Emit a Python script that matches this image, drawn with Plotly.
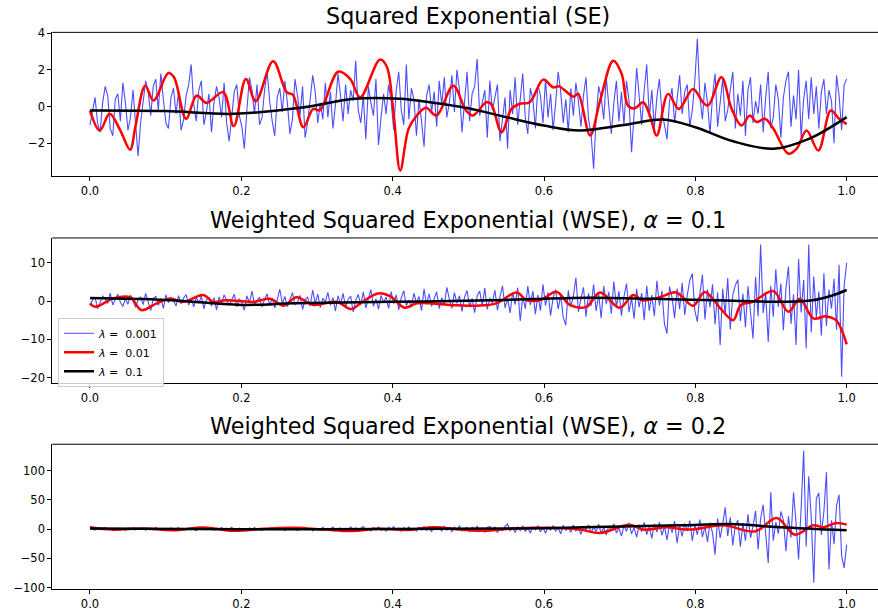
import numpy as np
import plotly.graph_objects as go

# ---------------- data ----------------
titles = ["Squared Exponential (SE)",
          "Weighted Squared Exponential (WSE), <i>α</i> = 0.1",
          "Weighted Squared Exponential (WSE), <i>α</i> = 0.2"]
legend_names = ["<i>λ</i> =  0.001", "<i>λ</i> =  0.01", "<i>λ</i> =  0.1"]
x_ticks = [0.0, 0.2, 0.4, 0.6, 0.8, 1.0]
y_ticks = [[-2, 0, 2, 4], [-20, -10, 0, 10], [-100, -50, 0, 50, 100]]

# lambda = 0.001 (noisy) samples, 300 points on [0, 1]
blue_se = [
    -1.0, -0.3, 0.5, -0.9, -1.4, 0.2, 1.1, 0.6, -1.2, -1.6,
    0.4, 0.7, -0.8, 1.3, 0.2, -1.3, -0.6, 0.9, -1.1, -2.7,
    -0.9, 0.3, 1.4, 0.8, -0.5, 1.1, 1.5, -0.2, 1.8, 0.4,
    -0.9, -1.2, 0.5, 1.0, -0.4, 0.8, -1.3, -0.7, 0.6, 1.2,
    2.3, 0.1, -0.8, 0.9, 1.4, -1.0, -0.3, 0.7, -1.4, 0.2,
    1.1, 0.5, -0.6, 1.3, -0.9, -1.9, -0.4, 0.8, 1.2, -0.5,
    -1.1, -2.3, -0.2, 1.6, 0.9, -0.4, 1.2, -1.0, -0.6, 0.9,
    1.9, 0.3, -0.8, -1.6, 0.5, 1.0, -0.3, 1.4, 0.2, -1.5,
    -0.7, 1.5, 0.6, -0.5, 1.1, -1.7, -0.9, 0.4, 1.7, 0.8,
    -0.9, 0.2, -0.7, 1.3, -0.6, 0.8, -1.2, 0.1, 1.8, 0.6,
    -0.8, 1.2, -0.4, 0.9, 0.3, 2.5, -0.2, -0.9, 0.6, -1.8,
    1.1, 0.2, -0.5, 1.5, -2.1, -0.6, 0.7, -0.4, 1.2, 0.3,
    -1.3, 0.9, 1.9, -0.2, -1.0, 2.3, -0.7, 1.0, 0.4, -1.6,
    0.4, -0.8, -2.2, 0.6, 1.2, -0.3, 0.8, -1.1, 1.4, 0.1,
    1.6, -0.6, 0.2, 1.7, -0.3, 2.0, 0.9, -1.4, 0.5, 1.9,
    -0.8, 0.7, 1.1, 2.6, -0.5, 0.3, 0.9, -1.7, 1.4, -0.2,
    0.6, 1.2, -1.9, -0.7, 0.5, -2.3, 0.9, -0.4, 1.6, -1.0,
    0.3, 1.8, -0.6, -1.5, 1.0, 0.4, -1.2, 1.2, 0.6, -0.9,
    1.5, -0.6, 0.7, -1.3, 0.2, 1.9, 0.8, -0.9, 0.4, -1.4,
    1.0, -0.5, 1.3, 0.3, -1.1, 0.6, 1.6, -0.7, -1.5, -3.4,
    -0.6, 1.1, 0.5, -0.7, 1.6, 0.2, -1.5, 0.2, 1.4, -0.8,
    0.8, -1.0, 1.4, 0.3, -2.5, -0.4, 2.1, 0.6, -1.0, 0.9,
    2.3, -0.6, 0.9, -1.2, 0.5, 1.5, -0.3, -1.0, -1.8, 0.3,
    1.0, -0.9, 0.4, 1.7, -0.4, 0.8, 1.2, -1.1, -0.2, 1.4,
    3.7, 0.5, -0.7, 1.3, 0.2, -1.5, 0.6, 1.8, -1.1, 0.4,
    1.5, -0.8, -0.2, 0.9, 1.9, -1.2, 0.7, -0.5, 1.4, -1.6,
    0.9, 1.6, -0.9, 0.3, -0.4, 1.2, -1.4, 0.5, 1.9, -1.2,
    -0.6, 1.2, 0.4, -1.7, 0.5, 1.4, 1.9, -1.1, 0.6, -0.7,
    2.0, -1.7, 0.4, 1.4, -0.7, 1.6, -0.4, 1.1, -1.2, 0.8,
    1.5, -0.4, 0.9, 0.3, -2.0, 1.7, 0.6, -1.3, 1.2, 1.5,
]
blue_wse1 = [
    -1.2, 0.3, 1.0, -2.0, -0.4, 1.3, 0.6, -0.6, 2.1, -1.0,
    0.4, 1.8, -0.3, -1.4, 0.6, -0.8, 1.5, 0.2, -1.6, 0.3,
    1.1, -0.9, 2.0, -0.5, -2.4, 0.7, 1.2, -1.1, 0.7, -1.9,
    1.6, -0.4, 0.9, 0.2, -1.3, 1.4, -0.7, 0.8, 1.7, -1.0,
    0.5, -1.5, 1.0, -0.6, 1.3, -2.0, 0.4, 0.9, -1.3, 0.9,
    -2.3, 1.1, -0.6, 1.6, 0.3, -1.1, 0.3, 1.8, -1.5, 0.6,
    -0.4, -2.4, 1.4, -0.5, 2.6, -0.9, 0.2, 1.0, -1.6, 0.5,
    1.9, -1.2, 0.8, -1.8, 0.4, 3.1, -0.7, 1.2, -1.5, 0.6,
    2.2, -1.0, -0.3, 1.5, -2.2, 0.4, 1.0, -1.3, 2.9, -0.6,
    1.8, -1.7, 0.7, -0.2, 2.3, -1.1, 0.9, -2.6, 1.4, -0.8,
    2.0, -1.5, 0.5, 1.3, -2.8, 0.2, 1.7, -0.9, 2.4, -1.8,
    0.8, 3.0, -1.4, 0.6, -2.1, 1.5, -0.4, 1.1, -1.9, 2.5,
    -0.7, 1.6, -2.3, 0.9, 2.7, -1.2, 0.3, -1.6, 2.1, -0.5,
    1.2, -2.5, 3.2, -0.8, 1.9, -1.4, 0.6, 2.4, -2.0, 0.9,
    -1.1, 3.6, 0.5, -1.9, 2.2, -0.6, 1.4, -2.7, 1.0, 2.8,
    -1.6, 0.7, -3.0, 1.4, 2.6, -1.2, 3.4, -2.2, 0.8, -0.4,
    2.9, -2.4, 1.1, 4.0, -1.8, 0.6, -3.1, 2.3, -0.9, 3.5,
    -5.2, 1.3, -2.0, 3.9, -1.0, 2.6, -3.4, 1.6, -2.5, 4.4,
    -1.2, 2.3, -3.8, 0.9, 3.0, -2.1, 1.5, -4.2, -6.3, 2.8,
    -1.5, 1.2, 6.1, -2.8, 0.7, 3.6, -4.1, 2.0, -1.3, 4.3,
    -2.6, 1.8, -4.5, 3.9, -0.8, 2.4, -3.3, 5.1, -1.5, 2.6,
    -3.8, 1.2, 4.6, -2.9, 0.8, -4.6, 3.2, -1.6, 2.1, -5.0,
    4.0, -2.5, 1.6, -3.9, 5.3, -1.2, 2.7, -6.0, -8.5, 3.8,
    1.0, -4.4, 3.3, -2.1, 4.8, -3.6, 1.5, 5.4, 7.2, -2.5,
    -5.4, 2.0, 6.9, -4.8, 3.0, -1.6, 4.4, -6.1, 2.3, -11.5,
    3.2, -3.5, 6.0, -7.4, 1.6, 4.1, 5.6, -5.2, 2.0, -6.8,
    3.9, -2.4, -9.8, 6.3, -4.0, 14.8, -3.1, 2.2, -10.7, 4.0,
    -4.1, 8.3, -1.5, 4.6, -7.6, 3.4, 9.0, -6.0, 1.8, -11.5,
    11.0, -3.0, 5.5, -12.4, 14.8, -8.2, 6.4, -4.2, 2.5, -9.0,
    7.3, -6.5, 3.0, -2.0, 5.8, -7.5, 9.5, -19.8, 4.0, 10.0,
]
blue_wse2 = [
    1.5, 0.4, -2.0, 0.8, -1.2, -0.3, 2.4, -0.6, 1.1, -2.5,
    0.4, 1.9, -1.4, 0.7, -2.2, 1.6, -0.5, 2.0, -1.7, 0.9,
    -0.3, 1.3, -2.1, 1.0, 0.2, -1.5, 2.6, -0.8, 1.2, -1.9,
    0.6, -0.9, 1.8, -1.1, 0.5, 2.2, -2.4, 0.9, -0.4, 1.5,
    -1.6, 0.3, -3.0, 1.4, -0.7, 2.1, -1.3, 0.6, 1.7, -2.2,
    0.8, -0.5, 2.5, -1.8, 1.1, -0.6, 2.9, -2.0, 0.4, 1.6,
    -1.2, 0.9, -2.3, 1.9, -0.8, 2.7, -1.5, 0.3, -2.6, 1.4,
    0.7, -1.0, 2.2, -1.6, 3.1, -0.9, 1.2, -2.8, 0.6, 2.0,
    -1.4, 0.5, -2.5, 1.7, -0.4, 2.9, -1.9, 1.0, -3.2, 1.5,
    0.2, -1.1, 2.8, -2.1, 1.3, -0.6, 3.4, -2.4, 0.9, 1.8,
    -3.0, 1.1, -2.7, 3.5, -1.2, 2.1, -3.8, 1.6, 4.2, -2.0,
    0.7, -3.1, 2.5, -1.4, 3.8, -2.6, 1.0, -3.5, 2.9, -0.8,
    4.1, -2.2, 1.5, -4.0, 2.4, -1.1, 3.6, -2.9, 0.6, -3.7,
    2.8, -1.5, 4.5, -2.4, 1.2, -4.3, 3.3, -0.9, 2.1, -3.2,
    4.8, -2.0, 1.7, -4.6, 3.0, -1.3, 5.2, -3.5, 0.8, 2.6,
    -4.4, 3.1, -1.9, 5.0, -3.6, 1.4, -5.3, 2.7, 4.6, -2.1,
    3.3, -5.8, 1.2, -2.9, 4.7, 8.5, -3.4, 2.1, -6.0, 3.8,
    -2.5, 5.5, -4.1, 1.6, -6.7, 3.9, -1.2, 6.1, -4.8, 2.4,
    -7.2, 4.3, -2.0, 5.9, -3.5, 1.8, -8.1, 6.5, -2.7, 3.6,
    -5.6, 7.0, -3.3, 2.2, -9.0, 4.8, -1.6, 6.9, -6.2, 3.1,
    -4.0, 8.2, -7.4, 2.6, -10.5, 5.3, -2.8, 9.1, -6.6, 1.7,
    -12.0, 6.0, -3.9, 10.4, -8.3, 2.5, -14.0, 7.5, -4.6, 11.2,
    -9.5, 3.8, -16.0, 8.7, -5.2, 12.0, -11.0, 4.4, -18.5, 7.9,
    -6.0, 13.5, -24.0, 5.5, -12.5, 9.6, -3.4, 14.5, -20.0, 6.8,
    -9.8, 16.0, -13.5, 4.0, -22.0, 11.0, -7.0, -43.7, 18.0, -15.0,
    8.0, 37.0, -12.0, 20.0, -28.0, 6.0, 15.0, -30.0, 10.0, -20.0,
    25.0, -15.0, 5.0, 31.0, -35.0, 18.0, 41.6, -10.0, -58.0, 63.0,
    -20.0, 12.0, -8.0, 30.0, 15.0, -38.0, 22.0, -15.0, 63.0, 10.0,
    -52.0, 35.0, 133.7, -30.0, 90.0, 20.0, -92.0, 52.0, 61.6, -10.0,
    30.0, 97.0, -69.0, 15.0, -26.0, 40.0, 58.6, -45.0, -66.5, -26.7,
]

# lambda = 0.01 (red) curves
red_se_x = [0, 0.013, 0.026, 0.04, 0.053, 0.06, 0.073, 0.084, 0.1035, 0.111, 0.127,
            0.141, 0.154, 0.176, 0.19, 0.206, 0.219, 0.242, 0.26, 0.268, 0.282,
            0.295, 0.304, 0.328, 0.344, 0.357, 0.383, 0.392, 0.401, 0.41, 0.421,
            0.432, 0.444, 0.458, 0.48, 0.497, 0.506, 0.524, 0.53, 0.544, 0.557,
            0.568, 0.581, 0.599, 0.612, 0.62, 0.639, 0.645, 0.661, 0.674, 0.6915,
            0.7025, 0.711, 0.72, 0.731, 0.74, 0.749, 0.764, 0.778, 0.797, 0.81,
            0.817, 0.8345, 0.848, 0.861, 0.872, 0.881, 0.892, 0.903, 0.923, 0.934,
            0.947, 0.9625, 0.979, 0.99, 1.0]
red_se_y = [-0.22, -1.31, -0.4, -1.3, -2.36, -1.1, 1.14, 0.33, 1.83, 1.6, -0.67,
            0.6, 0.2, 0.78, -1.07, 1.5, 0.29, 2.47, 0.78, 0.65, -1.13,
            -0.13, -0.2, 1.9, 1.5, 0.5, 2.56, 2.2, -0.31, -3.49, -1.22,
            -0.49, -0.07, -0.49, 1.14, -0.22, -0.49, 0.23, 0.15, -1.4, -0.13,
            0.15, 0.23, 1.47, 1.05, 1.1, 0.54, 0.7, -1.58, 0.3, 2.5,
            1.8, 0.05, -0.1, 0.23, -0.5, -1.58, 0.69, -0.13, 0.96, 0.23,
            0.05, 1.6, -0.13, -1.04, -0.49, -0.85, -0.67, -1.2, -2.58, -2.3,
            -1.31, -2.4, -0.22, -0.67, -0.96]
red_w1_x = [0, 0.007, 0.031, 0.053, 0.068, 0.088, 0.106, 0.123, 0.15, 0.163, 0.18,
            0.216, 0.238, 0.2555, 0.273, 0.295, 0.326, 0.345, 0.36, 0.381, 0.397,
            0.416, 0.432, 0.4755, 0.511, 0.537, 0.564, 0.577, 0.595, 0.617, 0.634,
            0.656, 0.674, 0.7, 0.718, 0.73, 0.753, 0.775, 0.797, 0.8125, 0.8325,
            0.85, 0.86, 0.876, 0.903, 0.923, 0.938, 0.956, 0.973, 0.986, 1.0]
red_w1_y = [-0.6, -1.5, 0.7, 1.0, -2.35, -0.6, 0.7, -0.2, 1.57, -0.2, 0.2,
            -0.2, 0.6, -1.2, 1.0, -1.0, -0.2, -2.1, -0.2, 2.0, 1.2,
            -1.75, -0.6, -1.0, -1.2, -0.6, 2.25, 0.2, 0.3, 2.4, -1.0,
            -1.5, 2.25, -1.75, 1.57, 0.2, 1.0, 2.25, -1.2, 2.4, -1.75,
            -5.0, -1.0, -0.2, 2.6, -2.8, 0.6, -4.5, -4.0, -5.0, -11.3]
red_w2_x = [0, 0.03, 0.07, 0.11, 0.15, 0.19, 0.23, 0.27, 0.31, 0.345, 0.38, 0.42,
            0.455, 0.49, 0.525, 0.56, 0.6, 0.6475, 0.674, 0.713, 0.731, 0.762,
            0.793, 0.837, 0.879, 0.9075, 0.9315, 0.956, 0.97, 0.985, 1.0]
red_w2_y = [3, -1, 1, -2, 2.5, -3, 0.5, 2, -1, -3.5, 0.5, -1.5,
            3, -1, -3, 1, 2, -1, -6.8, 7.5, -1, 3,
            -1, 6.3, -4, 18.8, -9.6, 6.3, 3, 10, 7.5]

# lambda = 0.1 (black) curves
blk_se_x = [0, 0.1, 0.19, 0.278, 0.35, 0.41, 0.45, 0.5, 0.55, 0.6, 0.647, 0.714,
            0.757, 0.8, 0.85, 0.903, 0.95, 1.0]
blk_se_y = [-0.22, -0.25, -0.4, -0.07, 0.42, 0.42, 0.23, -0.09, -0.58, -1.04, -1.31,
            -0.95, -0.71, -1.13, -1.9, -2.31, -1.77, -0.58]
blk_w1_x = [0, 0.1, 0.2, 0.27, 0.4, 0.53, 0.66, 0.78, 0.85, 0.92, 0.955, 0.98, 1.0]
blk_w1_y = [0.8, 0.3, -1.0, -0.6, -0.2, 0.2, 0.9, 0.4, 0.1, -0.2, 0.2, 1.4, 2.9]
blk_w2_x = [0, 0.2, 0.4, 0.6, 0.65, 0.78, 0.846, 0.912, 1.0]
blk_w2_y = [1, -0.5, 0, 1.5, 3, 6.3, 8.5, 3, -2.2]

x_blue = np.linspace(0, 1, len(blue_se))

# ---------------- figure ----------------
W, H = 878, 611
fig = go.Figure()

panels = [
    (blue_se, red_se_x, red_se_y, blk_se_x, blk_se_y),
    (blue_wse1, red_w1_x, red_w1_y, blk_w1_x, blk_w1_y),
    (blue_wse2, red_w2_x, red_w2_y, blk_w2_x, blk_w2_y),
]
# pixel boxes (top, bottom) of each axes, y ranges, title centres
boxes = [(26.9, 173.5), (236.6, 384.9), (447.0, 594.6)]
yranges = [[-3.80, 4.05], [-21.5, 16.5], [-102.4, 145]]
title_y = [10.6, 218.5, 428.7]

BLUE = "rgba(0,0,255,0.7)"
for k, (b, rx, ry, kx, ky) in enumerate(panels):
    ax = "" if k == 0 else str(k + 1)
    show = (k == 1)
    fig.add_trace(go.Scatter(x=x_blue, y=b, mode="lines", xaxis="x" + ax, yaxis="y" + ax,
                             line=dict(color=BLUE, width=1.1), name=legend_names[0],
                             showlegend=show, legendrank=1))
    fig.add_trace(go.Scatter(x=rx, y=ry, mode="lines", xaxis="x" + ax, yaxis="y" + ax,
                             line=dict(color="red", width=2.5, shape="spline", smoothing=1.0),
                             name=legend_names[1], showlegend=show, legendrank=2))
    fig.add_trace(go.Scatter(x=kx, y=ky, mode="lines", xaxis="x" + ax, yaxis="y" + ax,
                             line=dict(color="black", width=2.5, shape="spline", smoothing=1.0),
                             name=legend_names[2], showlegend=show, legendrank=3))

layout = dict(
    width=W, height=H, margin=dict(l=0, r=0, t=0, b=0),
    paper_bgcolor="white", plot_bgcolor="white",
    font=dict(family="DejaVu Sans", color="black", size=11),
    showlegend=True,
    legend=dict(x=58 / W, y=1 - 318 / H, xanchor="left", yanchor="top",
                bgcolor="rgba(255,255,255,0.8)", bordercolor="#cccccc", borderwidth=1,
                font=dict(family="DejaVu Sans", size=11, color="black"),
                tracegroupgap=0, itemwidth=30),
)
shapes = []
annotations = []
for k in range(3):
    ax = "" if k == 0 else str(k + 1)
    top, bot = boxes[k]
    layout["xaxis" + ax] = dict(
        domain=[52.3 / W, 1.0], range=[-0.0498, 1.0414], anchor="y" + ax,
        tickvals=x_ticks, tickformat=".1f", ticks="outside", ticklen=4,
        tickcolor="black", showline=True, linecolor="black", linewidth=1,
        showgrid=False, zeroline=False, tickfont=dict(size=11.5, color="black"),
    )
    layout["yaxis" + ax] = dict(
        domain=[1 - bot / H, 1 - top / H], range=yranges[k], anchor="x" + ax,
        tickvals=y_ticks[k], ticks="outside", ticklen=4, tickcolor="black",
        showline=True, linecolor="black", linewidth=1, showgrid=False, zeroline=False,
        tickfont=dict(size=11.5, color="black"),
    )
    shapes.append(dict(type="line", xref="x" + ax + " domain", yref="y" + ax + " domain",
                       x0=0, x1=1, y0=1, y1=1, line=dict(color="black", width=1)))
    annotations.append(dict(text=titles[k], xref="paper", yref="paper",
                            x=468.4 / W, y=1 - title_y[k] / H, xanchor="center",
                            yanchor="middle", showarrow=False,
                            font=dict(family="DejaVu Sans", size=22.3, color="black")))
layout["shapes"] = shapes
layout["annotations"] = annotations
fig.update_layout(**layout)

fig.write_html("out.html", config={"displayModeBar": False},
               post_script="document.body.style.margin='0px';document.body.style.overflow='hidden';")
